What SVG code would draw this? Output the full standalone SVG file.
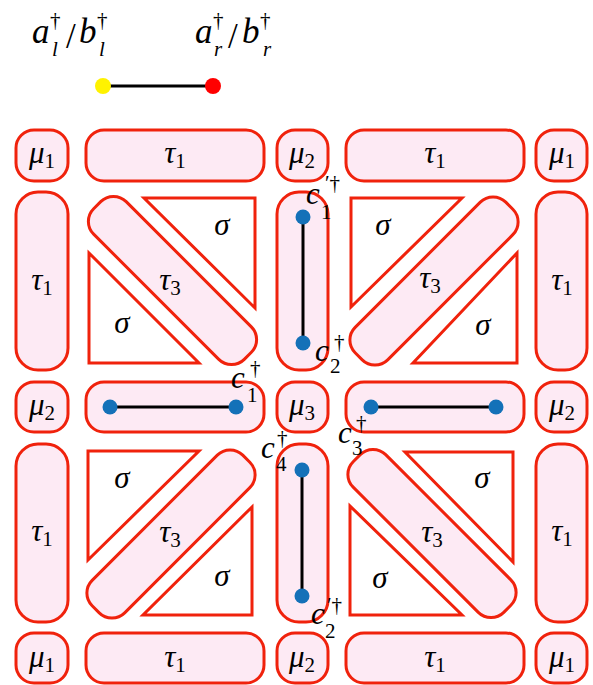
<svg xmlns="http://www.w3.org/2000/svg" width="593" height="685" viewBox="0 0 593 685">
<style>
.b{fill:#fdeaf4;stroke:#f0220c;stroke-width:3}
.t{fill:#fff;stroke:#f0220c;stroke-width:3;stroke-linejoin:miter}
.m{font-family:"Liberation Serif","DejaVu Serif",serif;font-style:italic;font-size:31px;fill:#000;text-anchor:middle}
.s{font-style:normal;font-size:21px}
.l{font-family:"Liberation Serif","DejaVu Serif",serif;font-size:35px;fill:#000}
.c{font-family:"Liberation Serif","DejaVu Serif",serif;font-size:31px;font-style:italic;fill:#000}
.sup{font-family:"Liberation Serif","DejaVu Serif",serif;font-size:21px;fill:#000}
.dot{fill:#1471b8}
.ln{stroke:#000;stroke-width:3}
</style>
<rect width="593" height="685" fill="#fff"/>
<g id="legend">
<line class="ln" x1="103" y1="86" x2="213" y2="86"/>
<circle cx="103" cy="86" r="8" fill="#fff200"/>
<circle cx="213" cy="86" r="8" fill="#ff0000"/>
<text class="l" x="32" y="43" font-style="italic">a</text>
<text class="sup" x="50" y="27">†</text>
<text class="sup" x="52" y="56" font-style="italic">l</text>
<text class="l" x="66" y="48">/</text>
<text class="l" x="79" y="43" font-style="italic">b</text>
<text class="sup" x="97" y="27">†</text>
<text class="sup" x="99" y="56" font-style="italic">l</text>
<text class="l" x="195" y="43" font-style="italic">a</text>
<text class="sup" x="213" y="27">†</text>
<text class="sup" x="214" y="56" font-style="italic">r</text>
<text class="l" x="228" y="48">/</text>
<text class="l" x="242" y="43" font-style="italic">b</text>
<text class="sup" x="260" y="27">†</text>
<text class="sup" x="263" y="56" font-style="italic">r</text>
</g>
<g id="row0">
<g id="mu1_tl"><rect class="b" x="16" y="130" width="52" height="51" rx="18"/><text class="m" x="42" y="163">μ<tspan class="s" dy="5">1</tspan></text></g>
<g id="tau1_t1"><rect class="b" x="86" y="130" width="178" height="51" rx="18"/><text class="m" x="175" y="163">τ<tspan class="s" dy="5">1</tspan></text></g>
<g id="mu2_t"><rect class="b" x="277" y="130" width="51" height="51" rx="18"/><text class="m" x="302" y="163">μ<tspan class="s" dy="5">2</tspan></text></g>
<g id="tau1_t2"><rect class="b" x="346" y="130" width="178" height="51" rx="18"/><text class="m" x="435" y="163">τ<tspan class="s" dy="5">1</tspan></text></g>
<g id="mu1_tr"><rect class="b" x="536" y="130" width="51" height="51" rx="18"/><text class="m" x="562" y="163">μ<tspan class="s" dy="5">1</tspan></text></g>
</g>
<g id="row1">
<g id="tau1_l1"><rect class="b" x="16" y="192" width="52" height="178" rx="22"/><text class="m" x="42" y="290">τ<tspan class="s" dy="5">1</tspan></text></g>
<g id="sigma_a1"><polygon class="t" points="144,198 255,198 255,308"/><text class="m" x="222" y="235">σ</text></g>
<g id="sigma_a2"><polygon class="t" points="89,253 89,363 199,363"/><text class="m" x="122" y="333">σ</text></g>
<g id="tau3_a"><rect class="b" x="-106.5" y="-23" width="213" height="46" rx="18" transform="translate(172.5,280.5) rotate(45)"/><text class="m" x="170" y="290">τ<tspan class="s" dy="5">3</tspan></text></g>
<g id="vbox_top"><rect class="b" x="277" y="192" width="51" height="178" rx="22"/></g>
<g id="sigma_b1"><polygon class="t" points="351,198 462,198 351,307"/><text class="m" x="383" y="235">σ</text></g>
<g id="sigma_b2"><polygon class="t" points="517,253 517,363 413,363"/><text class="m" x="483" y="335">σ</text></g>
<g id="tau3_b"><rect class="b" x="-106.5" y="-23" width="213" height="46" rx="18" transform="translate(434,281) rotate(-45)"/><text class="m" x="430" y="288">τ<tspan class="s" dy="5">3</tspan></text></g>
<g id="tau1_r1"><rect class="b" x="536" y="192" width="51" height="178" rx="22"/><text class="m" x="562" y="290">τ<tspan class="s" dy="5">1</tspan></text></g>
</g>
<g id="row2">
<g id="mu2_l"><rect class="b" x="16" y="382" width="52" height="50" rx="18"/><text class="m" x="42" y="415">μ<tspan class="s" dy="5">2</tspan></text></g>
<g id="hbox_l"><rect class="b" x="86" y="382" width="178" height="50" rx="18"/></g>
<g id="mu3"><rect class="b" x="277" y="382" width="51" height="50" rx="18"/><text class="m" x="302" y="415">μ<tspan class="s" dy="5">3</tspan></text></g>
<g id="hbox_r"><rect class="b" x="346" y="382" width="178" height="50" rx="18"/></g>
<g id="mu2_r"><rect class="b" x="536" y="382" width="51" height="50" rx="18"/><text class="m" x="562" y="415">μ<tspan class="s" dy="5">2</tspan></text></g>
</g>
<g id="row3">
<g id="tau1_l2"><rect class="b" x="16" y="444" width="52" height="178" rx="22"/><text class="m" x="42" y="541">τ<tspan class="s" dy="5">1</tspan></text></g>
<g id="sigma_c1"><polygon class="t" points="88,451 199,451 88,560"/><text class="m" x="122" y="488">σ</text></g>
<g id="sigma_c2"><polygon class="t" points="252,507 252,615 143,615"/><text class="m" x="222" y="586">σ</text></g>
<g id="tau3_c"><rect class="b" x="-106.5" y="-23" width="213" height="46" rx="18" transform="translate(171,534) rotate(-45)"/><text class="m" x="170" y="542">τ<tspan class="s" dy="5">3</tspan></text></g>
<g id="vbox_bot"><rect class="b" x="277" y="444" width="51" height="178" rx="22"/></g>
<g id="sigma_d1"><polygon class="t" points="405,452 513,452 513,562"/><text class="m" x="482" y="488">σ</text></g>
<g id="sigma_d2"><polygon class="t" points="350,506 350,615 462,615"/><text class="m" x="380" y="588">σ</text></g>
<g id="tau3_d"><rect class="b" x="-106.5" y="-23" width="213" height="46" rx="18" transform="translate(432,533.5) rotate(45)"/><text class="m" x="432" y="542">τ<tspan class="s" dy="5">3</tspan></text></g>
<g id="tau1_r2"><rect class="b" x="536" y="444" width="51" height="178" rx="22"/><text class="m" x="562" y="541">τ<tspan class="s" dy="5">1</tspan></text></g>
</g>
<g id="row4">
<g id="mu1_bl"><rect class="b" x="16" y="633" width="52" height="50" rx="18"/><text class="m" x="42" y="667">μ<tspan class="s" dy="5">1</tspan></text></g>
<g id="tau1_b1"><rect class="b" x="86" y="633" width="178" height="50" rx="18"/><text class="m" x="175" y="667">τ<tspan class="s" dy="5">1</tspan></text></g>
<g id="mu2_b"><rect class="b" x="277" y="633" width="51" height="50" rx="18"/><text class="m" x="302" y="667">μ<tspan class="s" dy="5">2</tspan></text></g>
<g id="tau1_b2"><rect class="b" x="346" y="633" width="178" height="50" rx="18"/><text class="m" x="435" y="667">τ<tspan class="s" dy="5">1</tspan></text></g>
<g id="mu1_br"><rect class="b" x="536" y="633" width="51" height="50" rx="18"/><text class="m" x="562" y="667">μ<tspan class="s" dy="5">1</tspan></text></g>
</g>
<g id="connectors">
<line class="ln" x1="303" y1="217" x2="303" y2="343"/>
<line class="ln" x1="110" y1="407" x2="236" y2="407"/>
<line class="ln" x1="371" y1="407" x2="496" y2="407"/>
<line class="ln" x1="302" y1="470" x2="302" y2="596"/>
</g>
<g id="dots">
<circle class="dot" cx="303" cy="217" r="7.5"/>
<circle class="dot" cx="303" cy="343" r="7.5"/>
<circle class="dot" cx="110" cy="407" r="7.5"/>
<circle class="dot" cx="236" cy="407" r="7.5"/>
<circle class="dot" cx="371" cy="407" r="7.5"/>
<circle class="dot" cx="496" cy="407" r="7.5"/>
<circle class="dot" cx="302" cy="470" r="7.5"/>
<circle class="dot" cx="302" cy="596" r="7.5"/>
</g>
<g id="site-labels">
<text class="c" x="306" y="204">c</text><text class="sup" x="325" y="190">′†</text><text class="sup" x="321" y="219">1</text>
<text class="c" x="315" y="361">c</text><text class="sup" x="334" y="349">†</text><text class="sup" x="330" y="373">2</text>
<text class="c" x="231" y="388">c</text><text class="sup" x="250" y="375">†</text><text class="sup" x="247" y="402">1</text>
<text class="c" x="338" y="443">c</text><text class="sup" x="356" y="430">†</text><text class="sup" x="352" y="455">3</text>
<text class="c" x="261" y="458">c</text><text class="sup" x="277" y="445">†</text><text class="sup" x="276" y="471">4</text>
<text class="c" x="311" y="624">c</text><text class="sup" x="327" y="612">′†</text><text class="sup" x="325" y="638">2</text>
</g>
</svg>
